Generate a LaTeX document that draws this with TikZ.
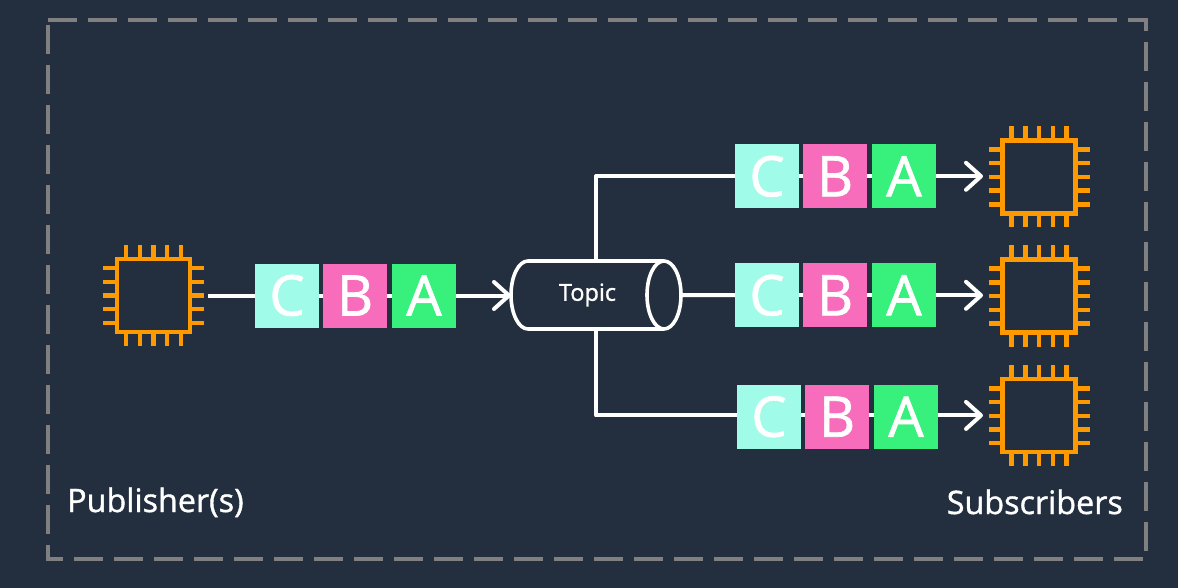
\documentclass[tikz,border=0pt]{standalone}
\usepackage{fontspec}
\setmainfont{Open Sans}[FakeBold=1.2]
\usetikzlibrary{arrows.meta}
\definecolor{bgc}{HTML}{232F3E}
\definecolor{orangec}{HTML}{FF9900}
\definecolor{tealc}{HTML}{A0FBE8}
\definecolor{pinkc}{HTML}{F76DBB}
\definecolor{greenc}{HTML}{38F07C}
\definecolor{dashc}{HTML}{808080}
\tikzset{
  x=1pt,y=-1pt,
  msgbox/.style={rectangle,minimum size=64pt,inner sep=0pt,outer sep=0pt,text=white,font=\fontsize{56}{56}\selectfont},
  msgc/.style={msgbox,fill=tealc},
  msgb/.style={msgbox,fill=pinkc},
  msga/.style={msgbox,fill=greenc},
  chipbody/.style={rectangle,draw=orangec,line width=4.5pt,minimum size=73pt,inner sep=0pt,outer sep=0pt},
  chippin/.style={draw=orangec,line width=4.4pt},
  wire/.style={draw=white,line width=4pt,line join=round},
  flow/.style={wire,-{Straight Barb[length=15pt,width=27pt,line width=4pt,round]}},
  label/.style={text=white,font=\fontsize{32.3}{33}\selectfont,inner sep=0pt},
}
\newcommand{\chipat}[3]{%
  \node[chipbody] (#1) at (#2,#3) {};
  \foreach \d in {-27.4,-13.7,0,13.7,27.4}{
    \draw[chippin] (#2+\d,#3-50.5) -- (#2+\d,#3-37);
    \draw[chippin] (#2+\d,#3+37) -- (#2+\d,#3+50.5);
    \draw[chippin] (#2-50.5,#3+\d) -- (#2-37,#3+\d);
    \draw[chippin] (#2+37,#3+\d) -- (#2+50.5,#3+\d);
  }%
}
\newcommand{\msgrow}[3]{%
  \node[msgc] (#1c) at (#2,#3) {C};
  \node[msgb] (#1b) at (#2+68,#3) {B};
  \node[msga] (#1a) at (#2+137,#3) {A};
}
\begin{document}
\begin{tikzpicture}
\useasboundingbox (0,0) rectangle (1178,588);
\fill[bgc] (0,0) rectangle (1178,588);
\draw[dashc,line width=4pt,dash pattern=on 29pt off 11pt] (48,20) -- (1146,20) -- (1146,559) -- (48,559) -- cycle;

\chipat{pub}{153.5}{295.5}
\chipat{suba}{1039}{177}
\chipat{subb}{1039}{296}
\chipat{subc}{1039}{415.7}

\msgrow{p}{287}{295.5}
\msgrow{t}{767}{176.3}
\msgrow{m}{767}{295.3}
\msgrow{u}{769}{416.7}

\draw[wire] (pc) -- (pb);
\draw[wire] (pb) -- (pa);
\draw[wire] (tc) -- (tb);
\draw[wire] (tb) -- (ta);
\draw[wire] (mc) -- (mb);
\draw[wire] (mb) -- (ma);
\coordinate (ucw) at ([yshift=1.3pt]uc.west);
\coordinate (ube) at ([yshift=1.3pt]ub.east);
\coordinate (ube2) at ([yshift=1.3pt]ua.east);
\draw[wire] ([yshift=1.3pt]uc.east) -- ([yshift=1.3pt]ub.west);
\draw[wire] (ube) -- ([yshift=1.3pt]ua.west);

\node[rectangle,minimum width=170pt,minimum height=68pt,inner sep=0pt,outer sep=0pt] (topic) at (596,295) {};
\draw[draw=white,line width=3.6pt,line join=round,line cap=round]
  (528,329)
  .. controls (518.6,329) and (511,313.8) .. (511,295)
  .. controls (511,276.2) and (518.6,261) .. (528,261)
  -- (664,261)
  .. controls (673.4,261) and (681,276.2) .. (681,295)
  .. controls (681,313.8) and (673.4,329) .. (664,329)
  .. controls (654.6,329) and (647,313.8) .. (647,295)
  .. controls (647,276.2) and (654.6,261) .. (664,261)
  (664,329) -- (528,329);
\node[text=white,font=\fontsize{23.5}{24}\selectfont,inner sep=0pt] (topiclabel) at (587.5,295) {Topic};

\draw[wire,shorten <=18pt] (pub) -- (pc);
\draw[flow] (pa) -- (topic.west|-pa);
\draw[wire] (topic.north) |- (tc);
\draw[wire] (topic.east) -- (mc);
\draw[wire] (topic.south) |- (ucw);
\draw[flow,shorten >=19.5pt] (ta) -- (suba.west|-ta);
\draw[flow,shorten >=19.5pt] (ma) -- (subb.west|-ma);
\draw[flow,shorten >=19.5pt] (ube2) -- (subc.west|-ube2);

\node[label,anchor=base west] (publabel) at (67,512) {Publisher(s)};
\node[label,anchor=base east] (sublabel) at (1123,514) {Subscribers};
\end{tikzpicture}
\end{document}
